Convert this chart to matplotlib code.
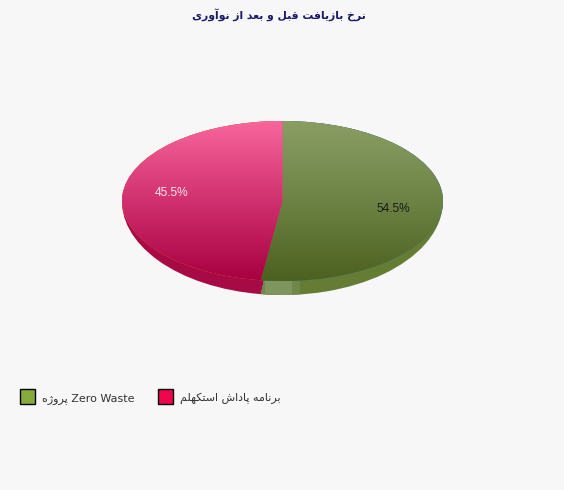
import re
import numpy as np
import matplotlib
matplotlib.use("Agg")
import matplotlib.pyplot as plt
from matplotlib.colors import LinearSegmentedColormap
from matplotlib.patches import Patch, PathPatch, Rectangle
from matplotlib.path import Path

TITLE = "نرخ بازیافت قبل و بعد از نوآوری"
categories = ["Zero Waste پروژه", "برنامه پاداش استکهلم"]
values = [54.5, 45.5]

BG = "#f7f7f7"
LEGEND_COLORS = ["#86aa3c", "#f0054f"]
SIDE_COLORS = ["#647c34", "#a70a45"]
GRADIENTS = [["#8a9e64", "#6d8345", "#4c611f"], ["#f8669c", "#d0306f", "#a80040"]]
LABEL_COLORS = ["#1a1a1a", "#f7e6ee"]

# pixel box of the pie on the 564x490 canvas
W, H = 564, 490
LEFT, RIGHT, TOP, FACE_BOTTOM = 122, 443, 121, 281
DEPTH = 14 / 80  # side height at the front, in units of the vertical radius
ANGLE_SQUASH = 0.47  # the 3d view foreshortens slice angles around the vertical


# isolated, final, initial, medial
FORMS = {
    "ا": (0xFE8D, 0xFE8E), "آ": (0xFE81, 0xFE82), "د": (0xFEA9, 0xFEAA),
    "ر": (0xFEAD, 0xFEAE), "ز": (0xFEAF, 0xFEB0), "ژ": (0xFB8A, 0xFB8B),
    "و": (0xFEED, 0xFEEE),
    "ب": (0xFE8F, 0xFE90, 0xFE91, 0xFE92), "پ": (0xFB56, 0xFB57, 0xFB58, 0xFB59),
    "ت": (0xFE95, 0xFE96, 0xFE97, 0xFE98), "خ": (0xFEA5, 0xFEA6, 0xFEA7, 0xFEA8),
    "س": (0xFEB1, 0xFEB2, 0xFEB3, 0xFEB4), "ش": (0xFEB5, 0xFEB6, 0xFEB7, 0xFEB8),
    "ع": (0xFEC9, 0xFECA, 0xFECB, 0xFECC), "ف": (0xFED1, 0xFED2, 0xFED3, 0xFED4),
    "ق": (0xFED5, 0xFED6, 0xFED7, 0xFED8), "ک": (0xFB8E, 0xFB8F, 0xFB90, 0xFB91),
    "ل": (0xFEDD, 0xFEDE, 0xFEDF, 0xFEE0), "م": (0xFEE1, 0xFEE2, 0xFEE3, 0xFEE4),
    "ن": (0xFEE5, 0xFEE6, 0xFEE7, 0xFEE8), "ه": (0xFEE9, 0xFEEA, 0xFEEB, 0xFEEC),
    "ی": (0xFBFC, 0xFBFD, 0xFBFE, 0xFBFF),
}


def rtl(text):
    # matplotlib does no shaping, so join the letters and lay them out by hand
    out = []
    for i, ch in enumerate(text):
        if ch not in FORMS:
            out.append(ch)
            continue
        prev = text[i - 1] if i > 0 else ""
        nxt = text[i + 1] if i + 1 < len(text) else ""
        joins_prev = prev in FORMS and len(FORMS[prev]) == 4
        joins_next = nxt in FORMS and len(FORMS[ch]) == 4
        if joins_prev and joins_next:
            code = FORMS[ch][3]
        elif joins_prev:
            code = FORMS[ch][1]
        elif joins_next:
            code = FORMS[ch][2]
        else:
            code = FORMS[ch][0]
        out.append(chr(code))
    visual = "".join(out)[::-1]
    return re.sub(r"[A-Za-z]+(?: [A-Za-z]+)*", lambda m: m.group(0)[::-1], visual)


def squash(theta):
    rad = np.radians(theta)
    return np.degrees(np.arctan2(np.sin(rad), ANGLE_SQUASH * np.cos(rad))) % 360


fig = plt.figure(figsize=(W / 100, H / 100), dpi=100, facecolor=BG)
bottom_px = FACE_BOTTOM + DEPTH * (FACE_BOTTOM - TOP) / 2
ax = fig.add_axes([LEFT / W, 1 - bottom_px / H, (RIGHT - LEFT) / W, (bottom_px - TOP) / H])

wedges, _, autotexts = ax.pie(values, autopct="%.1f%%", pctdistance=0.7, startangle=90,
                              counterclock=False, textprops={"family": "Liberation Sans", "fontsize": 8.6})

side_patches = []
for i, wedge in enumerate(wedges):
    t1, t2 = squash(wedge.theta1), squash(wedge.theta2)
    if t2 <= t1:
        t1 -= 360
    wedge.set_theta1(t1)
    wedge.set_theta2(t2)
    wedge.set_edgecolor("none")
    wedge.set_zorder(1)

    # side wall: the slice with its lower half stretched, so it tapers off at the sides
    path = wedge.get_path().transformed(wedge.get_patch_transform())
    verts = path.vertices.copy()
    verts[verts[:, 1] < 0, 1] *= 1 + DEPTH
    side = PathPatch(Path(verts, path.codes), facecolor=SIDE_COLORS[i], edgecolor="none", zorder=0.5)
    ax.add_patch(side)
    side_patches.append(side)

    cmap = LinearSegmentedColormap.from_list(f"face{i}", GRADIENTS[i])
    im = ax.imshow(np.linspace(0, 1, 256)[:, None], cmap=cmap, extent=(-1, 1, -1, 1),
                   aspect="auto", zorder=2)
    im.set_clip_path(wedge)
    autotexts[i].set_color(LABEL_COLORS[i])

# pale patch on the green wall, below the slice seam
for x0, x1, col in [(260, 300, "#6f8748"), (265, 292, "#7f9560")]:
    rect = Rectangle(((x0 - LEFT) / (RIGHT - LEFT) * 2 - 1, -1 - DEPTH), (x1 - x0) / (RIGHT - LEFT) * 2,
                     DEPTH, facecolor=col, edgecolor="none", zorder=0.8)
    ax.add_patch(rect)
    rect.set_clip_path(side_patches[0])

ax.set_aspect("auto")
ax.set_xlim(-1, 1)
ax.set_ylim(-1 - DEPTH, 1)
ax.axis("off")

fig.text(279 / W, 1 - 15 / H, rtl(TITLE), ha="center", va="center", color="#1a1a6e",
         fontsize=7.8, fontweight="bold", family="DejaVu Sans")

handles = [Patch(facecolor=c, edgecolor="black", linewidth=1) for c in LEGEND_COLORS]
fig.legend(handles, [rtl(c) for c in categories], ncol=2, frameon=False, loc="center left",
           bbox_to_anchor=(10 / W, 1 - 397 / H), prop={"family": "DejaVu Sans", "size": 8},
           handlelength=1.35, handleheight=1.7, handletextpad=0.63, columnspacing=2.1, labelcolor="#333333")

fig.savefig("out.png", dpi=100, facecolor=BG)
